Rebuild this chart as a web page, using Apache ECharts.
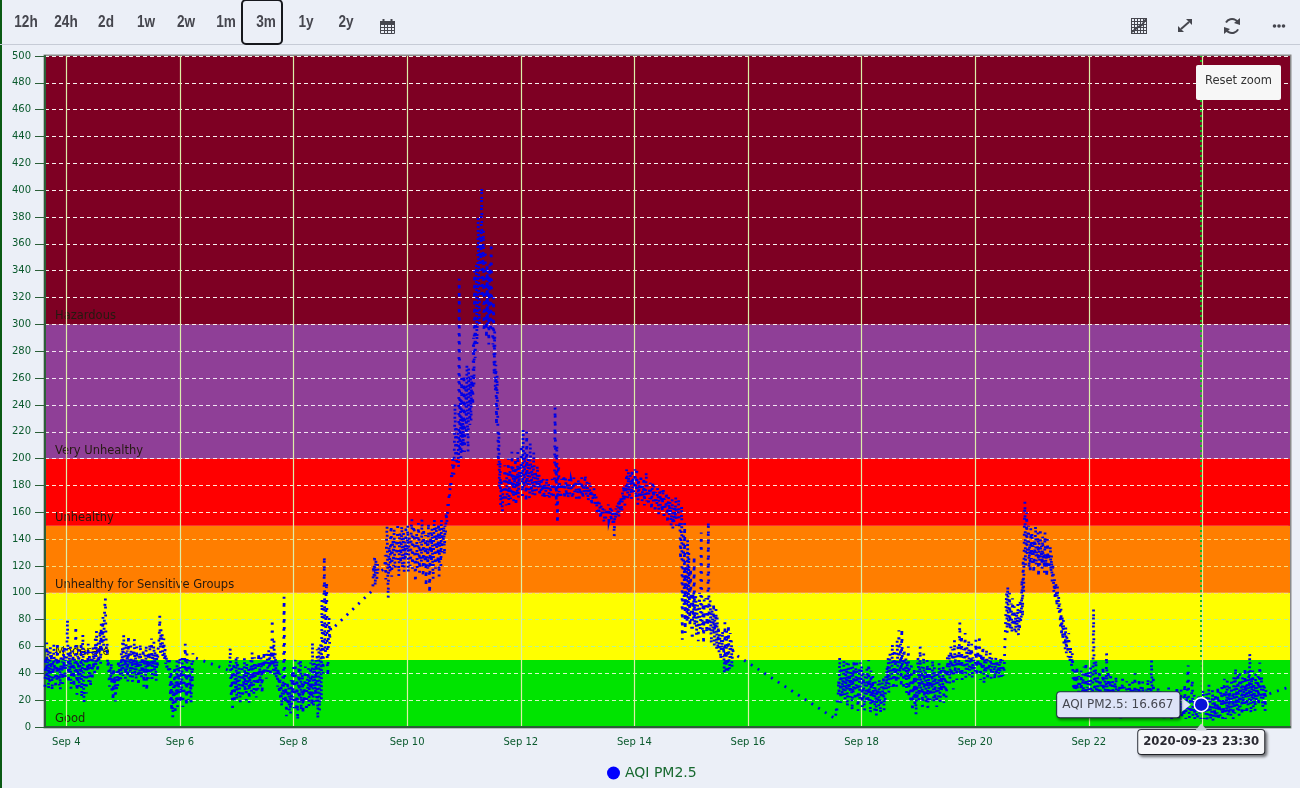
<!DOCTYPE html>
<html>
<head>
<meta charset="utf-8">
<title>AQI PM2.5</title>
<style>html,body{margin:0;padding:0;background:#ebeff7}#c{width:1300px;height:788px}</style>
<script src="https://cdn.jsdelivr.net/npm/echarts@6/dist/echarts.min.js"></script>
</head>
<body>
<div id="c"></div>
<script>
// ---- data: values, one reading per quarter hour ----
const sep03 = [30,52,38,63,35,58,28,47,33,60,40,55,27,48,36,62,42,50,29,56,34,63,37,52,31,45,28,54,38,49,32,58,44,61,36,50];
const sep04 = [45,62,80,50,33,55,41,60,28,48,36,57,44,30,52,39,75,46,24,53,34,60,29,47,38,63,22,49,69,35,18,44,58,37,25,50,42,62,33,55,40,30,56,46,35,60,43,52,38,66,45,72,50,41,63,48,58,72,47,77,55,68,82,60,75,90,96,70,55,62,45,50,38,30,45,34,48,25,40,20,44,28,38,19,36,26,42,30,50,33,47,40,35,55,39,63];
const sep05 = [38,69,45,52,36,63,41,57,34,68,48,55,37,61,43,50,33,58,46,66,39,53,35,60,44,49,31,55,41,62,47,36,52,40,58,30,46,54,38,61,27,50,43,56,36,62,48,41,66,35,53,45,64,38,57,48,34,55,44,58,60,68,83,55,73,60,70,52,62,66,50,58,47,52,42,50,45,40,52,44,20,42,12,35,7,30,18,45,10,38,20,50,15,44,25,52];
const sep06a = [50,18,42,28,52,15,36,24,48,62,30,16,55,34,20,44,50,25,38,18,48,30,55,52];
const sep06b = [42,59,30,22,44,12,35,48,18,40,28,52];
const sep07 = [20,52,32,24,45,28,18,40,34,46,22,38,30,52,26,42,20,48,35,28,44,18,38,30,50,26,56,36,44,24,52,33,48,22,46,38,28,55,35,45,30,52,40,25,50,38,56,42,54,46,36,55,48,40,58,45,52,38,60,48,80,58,42,65,38,55,45,36,50,30,44,38,25,40,20,32,15,28,38,20,97,40,18,30,8,24,34,16,30,12,26,10,35,16,42,22];
const sep08 = [45,14,30,50,22,12,36,5,28,48,18,38,50,12,26,40,10,32,18,38,45,20,12,40,28,44,15,36,22,48,30,16,63,25,15,48,33,25,50,18,58,6,30,60,12,42,62,20,95,50,40,70,127,60,55,100,108,48,38,70,82,62,76,72];
const sep09a = [102,120,112,128,105,125,118,110,122,115];
const sep09b = [118,128,110,135,150,122,96,130,135,115,142,150,112,128,140,120,148,125,118,135,140,125,152,130,112,140,145,122,133,150,118,128,145,115,138,125,150,130];
const sep10 = [128,150,115,135,142,120,125,148,155,118,138,150,148,125,108,135,145,118,125,152,140,115,138,128,122,155,132,112,148,125,120,143,105,130,140,118,152,128,100,135,145,120,148,125,110,142,155,128,118,150,132,145,122,152,112,148,135,120,155,130,145,138,150,128,150,145,160,152,158,168,165,175,172,182,178,190,185,200,192,188,215,241,198,225,195,210,220,193,334,205,245,200,260,205,230,210];
const sep11 = [262,205,240,255,218,270,225,205,268,240,225,260,228,262,255,240,290,255,340,275,300,345,285,320,380,330,300,370,345,365,402,320,350,370,295,335,355,310,290,345,300,340,285,320,345,295,360,310,300,285,320,262,295,250,270,225,262,235,195,220,178,198,165,185,172,160,178,168,170,195,180,165,190,172,175,200,165,185,192,170,178,205,172,195,168,188,178,200,165,192,175,205,170,190,180,196];
const sep12 = [185,210,195,172,222,180,178,205,190,168,220,185,180,200,175,170,212,192,175,195,172,180,205,188,172,190,178,176,195,183,178,188,172,180,175,186,180,172,185,176,170,182,175,178,186,172,176,182,170,178,180,174,172,185,178,170,176,182,238,195,165,210,152,190,195,175,183,170,172,185,178,176,182,188,170,178,186,172,176,183,170,180,185,173,178,184,182,170,172,180,186,175,178,182,170,172];
const sep13 = [175,185,178,168,182,175,172,186,178,170,180,174,175,188,178,172,183,176,168,178,182,172,180,174,165,175,170,168,178,172,164,172,170,160,170,165,158,168,162,155,165,160,158,164,156,152,162,158,155,163,160,157,166,154,156,164,160,153,163,158,150,162,142,160,155,163,158,165,160,168,156,170,162,172,165,160,175,168,180,170,165,180,175,192,185,170,190,178,172,188,180,170,192,178,186,175];
const sep14 = [178,192,183,170,193,178,165,185,172,182,170,188,176,168,180,172,186,165,178,172,190,168,180,175,165,178,170,182,174,162,176,182,168,180,170,160,175,168,165,178,172,158,172,176,165,176,168,160,172,178,155,170,165,162,175,168,152,165,172,158,168,162,150,160,170,148,160,152,164,156,172,150,165,158,155,170,148,152,125,140,165,65,110,145,90,152,70,115,120,78,140,80,130,95,75,118];
const sep15 = [85,72,65,100,80,127,75,92,98,68,85,92,64,88,100,72,80,145,88,72,92,62,95,75,88,96,70,85,75,153,90,70,95,78,62,88,82,70,92,60,80,72,88,58,82,60,75,55,70,62,50,65,58,72,52,60,40,78,50,42,72,58,40,76,46,42,70,52,65,44,60,55];
const sep17 = [6,14,10,22,16,35,24,52,30,18,45,22,36,25,50,32,20,42,28,48,15,38,48,28,38,22,45,30,12,45,25,50,35,20,48,30,50,24,12,35,44,20,48,30];
const sep18 = [46,15,30,40,22,12,38,28,20,44,32,18,50,24,36,10,42,28,16,38,22,30,12,34,26,8,28,20,32,15,36,24,10,30,18,34,22,38,12,26,20,38,28,45,32,52,25,40,55,30,48,35,62,42,28,58,36,50,40,30,65,48,35,72,52,40,62,30,73,45,55,28,58,42,35,52,25,48,38,60,22,44,30,18,48,25,12,36,22,44,15,38,9,30,20,52];
const sep19 = [48,20,35,60,25,42,45,15,32,55,22,38,42,18,30,50,14,36,28,44,20,34,38,25,50,30,18,45,20,40,35,15,28,42,22,48,32,18,44,26,38,28,46,18,34,44,30,22,30,52,38,44,55,32,48,60,38,50,58,28,46,65,40,54,50,35,48,62,42,58,78,38,55,68,35,48,58,40,52,70,36,50,60,42,55,65,38,48,58,44,62,36,52,42,50,40];
const sep20 = [42,65,50,38,60,48,45,68,52,35,55,46,42,60,50,32,52,44,40,58,48,35,50,42,44,56,50,36,52,42,40,48,45,35,46,52,38,50,42,46,36,48,40,52,35,44,50,38,46,42,60,72,88,100,70,105,82,75,100,72,88,92,70,96,85,75,90,72,82,70,86,75,92,68,80,72,95,78,84,110,82,125,100,150,168,120,140,160,128,145,150,118,135,115,148,125];
const sep21 = [145,120,135,115,140,128,150,120,132,125,145,112,138,120,148,125,135,118,142,122,130,115,145,120,128,112,140,125,130,118,125,135,115,128,108,122,115,100,110,95,108,102,90,105,88,98,85,92,75,88,68,82,65,80,60,72,58,75,55,68,62,52,70,60,48,60,52,45,55,42,30,18,42,12,35,15,45,25,10,38,20,35,10,42,22,14,40,28,45,12,35,48,20,30,16,42];
const sep22 = [30,12,24,45,18,28,20,36,88,42,15,34,50,22,28,38,14,30,42,18,35,24,10,30,45,20,12,38,18,28,55,30,20,42,12,36,26,40,22,10,35,18,28,12,34,22,38,8,26,16,28,14,32,20,6,30,24,36,12,18,30,8,25,16,34,18,30,6,22,33,10,28,16,26,36,8,24,14,40,12,30,18,6,28,14,36,10,22,30,12,20,34,8,26,14,24];
const sep23 = [8,28,15,22,36,12,24,30,10,20,50,26,12,38,18,22,8,25,14,10,20,30,6,18,12,24,28,8,16,22,10,6,16,24,7,18,24,10,14,30,8,20,22,12,6,18,25,8,14,20,10,6,18,30,12,5,18,8,24,12,28,6,15,10,20,8,32,14,6,22,12,40,46,18,6,22,14,10,30,35,8,16,24,6,12,20,8,22,5,16,24,10,14,6,16.667,12];
const sep24 = [12,28,18,6,22,14,9,26,5,18,12,32,8,20,5,16,10,28,4,14,22,8,25,6,18,10,30,5,20,14,8,28,12,32,6,22,10,36,16,6,28,12,35,8,24,10,30,18,8,36,14,24,6,38,20,10,44,16,30,12,40,22,8,42,15,34,24,9,38,18,28,12,44,22,32,10,36,14,42,20,55,26,10,36,20,42,14,32,24,12,40,18,34,22,38,16];
const sep25a = [16,48,26,20,38,22,14,32,18,30,12,28,24,25];
const sep25b = [30];

const segments = [
  ['2020-09-03T15:00Z', sep03], ['2020-09-04T00:00Z', sep04], ['2020-09-05T00:00Z', sep05],
  ['2020-09-06T00:00Z', sep06a], ['2020-09-06T21:00Z', sep06b], ['2020-09-07T00:00Z', sep07],
  ['2020-09-08T00:00Z', sep08], ['2020-09-09T09:30Z', sep09a], ['2020-09-09T14:30Z', sep09b],
  ['2020-09-10T00:00Z', sep10], ['2020-09-11T00:00Z', sep11], ['2020-09-12T00:00Z', sep12],
  ['2020-09-13T00:00Z', sep13], ['2020-09-14T00:00Z', sep14], ['2020-09-15T00:00Z', sep15],
  ['2020-09-17T13:00Z', sep17], ['2020-09-18T00:00Z', sep18], ['2020-09-19T00:00Z', sep19],
  ['2020-09-20T00:00Z', sep20], ['2020-09-21T00:00Z', sep21], ['2020-09-22T00:00Z', sep22],
  ['2020-09-23T00:00Z', sep23], ['2020-09-24T00:00Z', sep24], ['2020-09-25T00:00Z', sep25a],
  ['2020-09-25T13:00Z', sep25b]
];
const xTickDays = ['2020-09-04','2020-09-06','2020-09-08','2020-09-10','2020-09-12','2020-09-14','2020-09-16','2020-09-18','2020-09-20','2020-09-22','2020-09-24'];
const bandNames = ['Good','Moderate','Unhealthy for Sensitive Groups','Unhealthy','Very Unhealthy','Hazardous'];
const bandFrom = [0,50,100,150,200,300];
const bandTo = [50,100,150,200,300,500];
const bandColors = ['#00e400','#ffff00','#ff7e00','#ff0000','#8f3f97','#7e0023'];
const bandGridColors = ['#d6f7c8','#b4f29a','#f4dd80','#ffe6d8','#f2e6f2','#f8f0f0'];
const rangeButtons = ['12h','24h','2d','1w','2w','1m','3m','1y','2y'];
const seriesName = 'AQI PM2.5';
const hoverTime = '2020-09-23T23:30Z';
const hoverLabel = '2020-09-23 23:30';
const hoverValue = 16.667;

// ---- build ----
const STEP = 900000;
const points = [];
segments.forEach(([start, vals]) => {
  const t0 = Date.parse(start);
  vals.forEach((v, i) => points.push([t0 + i * STEP, v]));
});
const hoverT = Date.parse(hoverTime);
const MONTHS = ['Jan','Feb','Mar','Apr','May','Jun','Jul','Aug','Sep','Oct','Nov','Dec'];
const tickVals = xTickDays.map(d => Date.parse(d + 'T00:00Z'));
const G = '#0b5a2e', INK = '#45464e';
const yGridColors = [];
for (let v = 0; v <= 500; v += 20) {
  let k = bandFrom.length - 1;
  while (k > 0 && v < bandFrom[k]) k--;
  yGridColors.push(bandGridColors[k]);
}

const chrome = [];
chrome.push({type:'rect',shape:{x:0,y:0,width:2,height:788},style:{fill:'#0a5a14'},z:50});
chrome.push({type:'rect',shape:{x:0,y:44,width:1300,height:1},style:{fill:'#c6cbd6'},z:50});
rangeButtons.forEach((t,i)=>chrome.push({type:'text',x:26+i*40,y:22,scaleX:0.8,z:50,
  style:{text:t,fill:INK,fontFamily:'"Liberation Sans"',fontWeight:'bold',fontSize:17,align:'center',verticalAlign:'middle'}}));
chrome.push({type:'rect',shape:{x:242,y:0,width:40,height:44,r:4},style:{fill:'none',stroke:'#16181d',lineWidth:2},z:50});
function ln(x1,y1,x2,y2,w){chrome.push({type:'line',shape:{x1,y1,x2,y2},style:{stroke:INK,lineWidth:w||1},z:50});}
// calendar icon
chrome.push({type:'rect',shape:{x:380,y:21,width:15,height:4},style:{fill:INK},z:50});
chrome.push({type:'rect',shape:{x:380.5,y:21.5,width:14,height:12},style:{fill:'none',stroke:INK,lineWidth:1},z:50});
[27,30].forEach(y=>ln(380,y+.5,395,y+.5));
[384,387,391].forEach(x=>ln(x+.5,25,x+.5,33));
ln(383.5,19,383.5,22,2);ln(391.5,19,391.5,22,2);
// grid + trend icon
[18.5,21.5,24.5,27.5,30.5,33.5].forEach(y=>ln(1131,y,1146,y));
[1131.5,1134.5,1137.5,1140.5,1143.5,1146.5].forEach(x=>ln(x,18,x,34));
chrome.push({type:'polyline',shape:{points:[[1132,32],[1138,27],[1142,25],[1146,19]]},style:{stroke:INK,fill:'none',lineWidth:2},z:50});
// expand icon
ln(1181,29,1189,22,2);
chrome.push({type:'polygon',shape:{points:[[1178,32],[1178,26],[1184,32]]},style:{fill:INK},z:50});
chrome.push({type:'polygon',shape:{points:[[1192,19],[1192,25],[1186,19]]},style:{fill:INK},z:50});
// refresh icon
chrome.push({type:'arc',shape:{cx:1232,cy:26,r:7,startAngle:-2.6,endAngle:-0.4},style:{stroke:INK,fill:'none',lineWidth:2},z:50});
chrome.push({type:'arc',shape:{cx:1232,cy:26,r:7,startAngle:0.5,endAngle:2.7},style:{stroke:INK,fill:'none',lineWidth:2},z:50});
chrome.push({type:'polygon',shape:{points:[[1240,18],[1240,25],[1234,23]]},style:{fill:INK},z:50});
chrome.push({type:'polygon',shape:{points:[[1224,34],[1224,27],[1230,29]]},style:{fill:INK},z:50});
// more icon
[1274.5,1279,1283.5].forEach(cx=>chrome.push({type:'circle',shape:{cx,cy:26,r:1.8},style:{fill:INK},z:50}));
// reset zoom button
chrome.push({type:'rect',shape:{x:1196,y:65,width:85,height:35,r:2},style:{fill:'#f7f7f7'},z:50});
chrome.push({type:'text',x:1238.5,y:81.5,z:51,style:{text:'Reset zoom',fill:'#333',fontFamily:'"DejaVu Sans"',fontSize:11.5,align:'center',verticalAlign:'middle'}});

const chart = echarts.init(document.getElementById('c'));
chart.setOption({
  animation:false,
  backgroundColor:'#ebeff7',
  grid:{left:45,right:10,top:56,height:671,show:true,borderColor:'#8a8a8a',borderWidth:3,backgroundColor:'transparent'},
  legend:{data:[seriesName],left:602,top:761,icon:'circle',itemWidth:13,itemHeight:13,itemGap:6,
    textStyle:{color:'#17692f',fontFamily:'"DejaVu Sans"',fontSize:14}},
  xAxis:{type:'value',min:Date.parse('2020-09-03T15:00Z'),max:Date.parse('2020-09-25T13:00Z'),z:2,
    axisLine:{show:true,onZero:false,lineStyle:{color:'#2c5f38',width:2}},
    axisTick:{show:false,customValues:tickVals},
    axisLabel:{customValues:tickVals,color:G,fontFamily:'"DejaVu Sans"',fontSize:10,margin:10,hideOverlap:false,
      formatter:v=>{const d=new Date(v);return MONTHS[d.getUTCMonth()]+' '+d.getUTCDate();}},
    splitLine:{show:true,lineStyle:{color:'#dcefa8',width:1.2}}},
  yAxis:{type:'value',min:0,max:500,interval:20,z:2,
    axisLine:{show:true,lineStyle:{color:'#2c5f38',width:2}},
    axisTick:{show:true,length:10,lineStyle:{color:'#2c5f38'}},
    axisLabel:{color:G,fontFamily:'"DejaVu Sans"',fontSize:10,margin:14},
    splitLine:{show:true,lineStyle:{color:yGridColors,type:[4,3],width:1}}},
  graphic:{elements:chrome},
  series:[{
    name:seriesName,type:'line',z:3,data:points,showSymbol:false,symbol:'circle',
    sampling:'none',smooth:false,clip:true,
    itemStyle:{color:'#0000ff'},
    lineStyle:{color:'#0000e8',width:2.8,type:[2,6],cap:'butt',join:'miter'},
    markArea:{silent:true,z:1,
      data:bandNames.map((n,i)=>[
        {yAxis:bandFrom[i],name:n,itemStyle:{color:bandColors[i],opacity:1},
         label:{show:true,position:'insideBottomLeft',distance:0,padding:[0,0,2,10],color:'#241a10',fontFamily:'"DejaVu Sans"',fontSize:11.5}},
        {yAxis:bandTo[i]}
      ])},
    markLine:{silent:true,z:5,symbol:'none',animation:false,
      data:[{xAxis:hoverT,
        lineStyle:{color:'#12b81e',width:2,type:[2,3]},
        label:{show:true,position:'start',distance:3,formatter:hoverLabel,color:'#2b2b33',
          fontFamily:'"DejaVu Sans"',fontSize:11.7,fontWeight:'bold',backgroundColor:'#f6f7fa',
          borderColor:'#33363f',borderWidth:1,borderRadius:3,padding:[6,5,6,5],
          shadowColor:'rgba(0,0,0,.45)',shadowBlur:3,shadowOffsetX:2,shadowOffsetY:2}}]},
    markPoint:{silent:true,z:6,animation:false,
      data:[
        {coord:[hoverT,hoverValue],symbol:'circle',symbolSize:14,
         itemStyle:{color:'#0a14d8',borderColor:'#ffffff',borderWidth:1.5},
         label:{show:true,position:'left',distance:14,formatter:seriesName+': '+hoverValue,color:'#44464f',
           fontFamily:'"DejaVu Sans"',fontSize:12,backgroundColor:'#dde3f7',borderColor:'#2a2f52',borderWidth:1,
           borderRadius:3,padding:[7,6,6,5],shadowColor:'rgba(0,0,0,.4)',shadowBlur:3,shadowOffsetX:1,shadowOffsetY:2}},
        {coord:[hoverT,hoverValue],symbol:'triangle',symbolRotate:-90,symbolSize:[14,9],symbolOffset:[-15,0],
         itemStyle:{color:'#dde3f7'},label:{show:false}},
        {coord:[hoverT,0],symbol:'triangle',symbolSize:[12,7],symbolOffset:[0,0],
         itemStyle:{color:'#c6cbd6'},label:{show:false}}
      ]}
  }]
});
</script>
</body>
</html>
